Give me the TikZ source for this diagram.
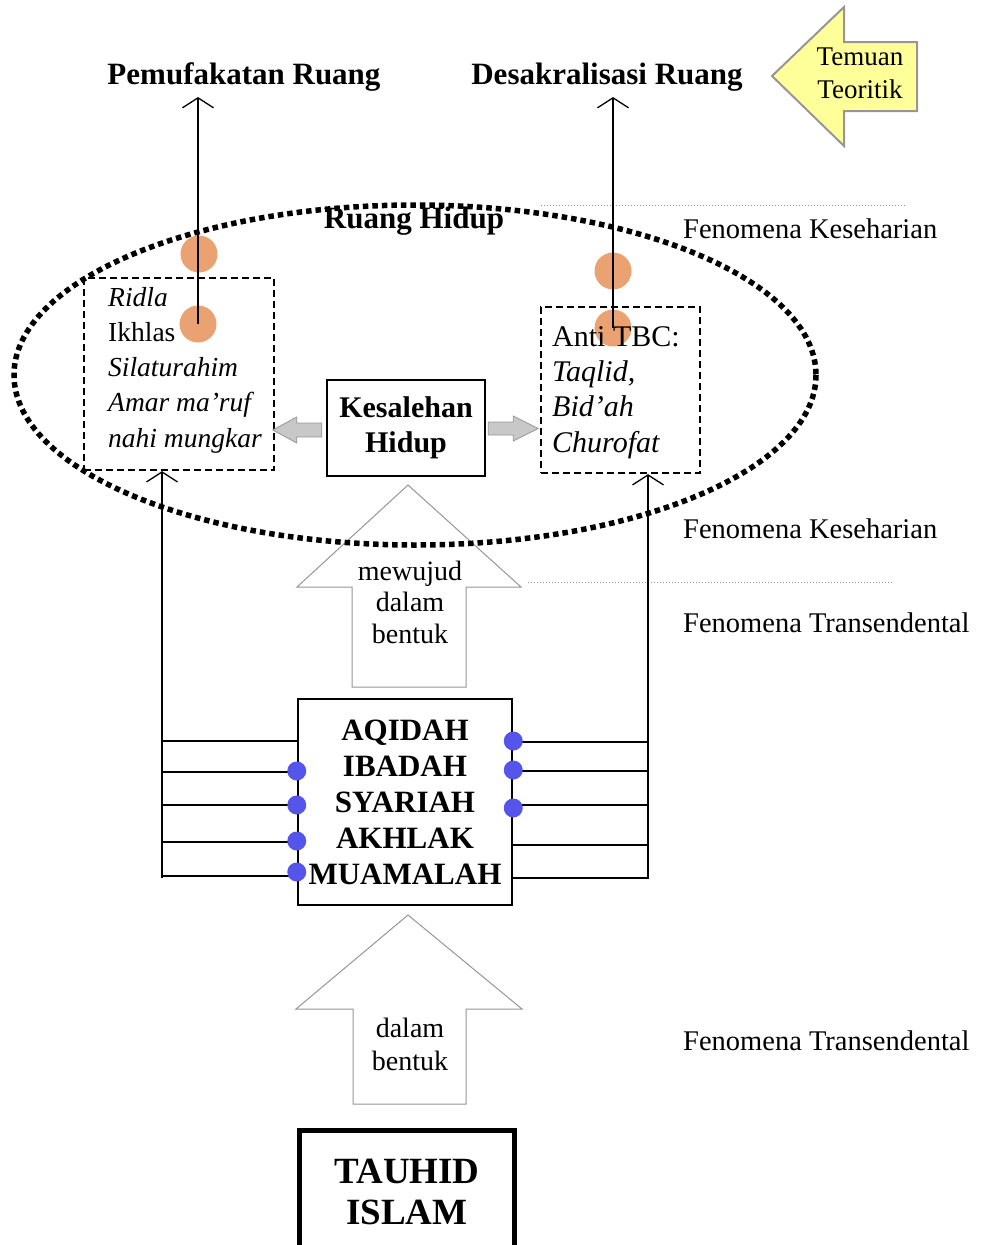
\documentclass[tikz,border=0pt]{standalone}
\usepackage{fontspec}
\setmainfont{Liberation Serif}
\usetikzlibrary{positioning,arrows.meta}

\definecolor{oranye}{RGB}{234,162,114}
\definecolor{biru}{RGB}{85,85,235}
\definecolor{kuning}{RGB}{255,255,153}
\definecolor{abu}{RGB}{200,200,200}
\definecolor{abutua}{RGB}{150,150,150}

\begin{document}
\begin{tikzpicture}[x=1pt,y=-1pt,
  judul/.style={font=\bfseries\fontsize{31}{37}\selectfont, anchor=base, inner sep=6pt},
  ket/.style={font=\fontsize{28.5}{34}\selectfont, anchor=base west, inner sep=0pt},
  isi/.style={align=left, anchor=base west, inner sep=0pt},
  tengah/.style={align=center, anchor=base, inner sep=0pt},
  kotakputus/.style={draw, line width=2.3pt, dash pattern=on 7pt off 4pt},
  kotak/.style={draw, line width=2.5pt, align=center},
  bulat/.style={circle, fill=oranye, minimum size=37pt, inner sep=0pt},
  panah/.style={line width=1.3pt, -{Straight Barb[length=10pt,width=31pt]}},
  garis/.style={line width=1.3pt},
  blokabu/.style={fill=abu, draw=abutua, line width=0.8pt},
  blokputih/.style={fill=white, draw=abutua, line width=1pt}]
\useasboundingbox (0,0) rectangle (981,1245);
\clip (0,0) rectangle (981,1245);

% judul temuan
\node[judul] (tkiri) at (244,84) {Pemufakatan Ruang};
\node[judul] (tkanan) at (607,84) {Desakralisasi Ruang};

% panah kuning (baseline = baris terakhir)
\draw[fill=kuning, draw=abutua, line width=2pt] (772,76) -- (844,7) -- (844,42) -- (917,42)
  -- (917,111) -- (844,111) -- (844,146) -- cycle;
\node[tengah, font=\fontsize{27}{33}\selectfont] (temuan) at (860,98) {Temuan\\Teoritik};

% panah besar atas
\draw[blokputih] (408,485) -- (521,587) -- (466,587) -- (466,687) -- (352,687) -- (352,587)
  -- (297,587) -- cycle;
\node[tengah, font=\fontsize{28}{31.5}\selectfont] (wujud) at (410,643) {mewujud\\dalam\\bentuk};

% ruang hidup
\draw[line width=5.5pt, dash pattern=on 5.5pt off 4pt] (415,375) ellipse [x radius=401, y radius=170];
\node[tengah, font=\bfseries\fontsize{31}{36}\selectfont] (ruang) at (414,228) {Ruang Hidup};

% batas fenomena
\draw[dotted, line width=1pt, abutua] (541,205) -- (905,205);
\draw[dotted, line width=1pt, abutua] (528,582) -- (893,582);
\node[ket] (fk1) at (683,238) {Fenomena Keseharian};
\node[ket] (fk2) at (683,538) {Fenomena Keseharian};
\node[ket] (ft1) at (683,632) {Fenomena Transendental};
\node[ket] (ft2) at (683,1050) {Fenomena Transendental};

% bulatan
\node[bulat] (o1) at (199,254) {};
\node[bulat] (o2) at (198,324) {};
\node[bulat] (o3) at (613,271) {};
\node[bulat] (o4) at (613,328) {};

% kotak nilai kiri dan kanan
\node[kotakputus, minimum width=190pt, minimum height=192pt] (nilai) at (179,374) {};
\node[isi, font=\fontsize{27.5}{35.2}\selectfont] (nilaitxt) at (108,447)
  {\textit{Ridla}\\Ikhlas\\\textit{Silaturahim}\\\textit{Amar ma’ruf}\\\textit{nahi mungkar}};
\node[kotakputus, minimum width=159pt, minimum height=166pt] (tbc) at (620.5,390) {};
\node[isi, font=\fontsize{30}{35.3}\selectfont] (tbctxt) at (552,452)
  {Anti TBC:\\\textit{Taqlid,}\\\textit{Bid’ah}\\\textit{Churofat}};

% kesalehan hidup
\node[kotak, minimum width=158pt, minimum height=96pt, font=\bfseries\fontsize{30}{35}\selectfont]
  (kes) at (406,428) {Kesalehan\\Hidup};
\draw[blokabu] (kes.west) ++(-4,-5) -- ++(-25,0) -- ++(0,-6) -- ++(-24,13) -- ++(24,13)
  -- ++(0,-6) -- ++(25,0) -- cycle;
\draw[blokabu] (kes.east) ++(2,-6) -- ++(25,0) -- ++(0,-6) -- ++(25,12.5) -- ++(-25,12.5)
  -- ++(0,-6) -- ++(-25,0) -- cycle;

% panah ke atas
\draw[panah] (o2.center) -- (o2.center |- tkiri.south);
\draw[panah] (o4.center) -- (o4.center |- tkanan.south);

% pilar
\node[kotak, minimum width=214pt, minimum height=206pt, font=\bfseries\fontsize{31}{36}\selectfont]
  (pilar) at (405,802) {AQIDAH\\IBADAH\\SYARIAH\\AKHLAK\\MUAMALAH};
\coordinate (kiri) at (162,878);
\coordinate (kanan) at (648,879);
\draw[panah] (kiri) -- (kiri |- nilai.south);
\draw[panah] (kanan) -- (kanan |- tbc.south);
\foreach \y in {741,772,805,842,876}
  \draw[garis] (kiri |- 0,\y) -- (pilar.west |- 0,\y);
\foreach \y in {742,771,805,845,878}
  \draw[garis] (pilar.east |- 0,\y) -- (kanan |- 0,\y);
\foreach \y in {771,805,841,872}
  \fill[biru] (pilar.west |- 0,\y) circle (9.5pt);
\foreach \y in {741,770,808}
  \fill[biru] (pilar.east |- 0,\y) circle (9.5pt);

% panah besar bawah
\draw[blokputih] (408,915) -- (522,1009) -- (466,1009) -- (466,1104) -- (353,1104) -- (353,1009)
  -- (296,1009) -- cycle;
\node[tengah, font=\fontsize{28}{33}\selectfont] (bentuk) at (410,1070) {dalam\\bentuk};

% tauhid
\node[draw, line width=5pt, minimum width=215pt, minimum height=124pt, align=center,
  font=\bfseries\fontsize{37}{41}\selectfont] (tauhid) at (407,1192) {TAUHID\\ISLAM};
\end{tikzpicture}
\end{document}
